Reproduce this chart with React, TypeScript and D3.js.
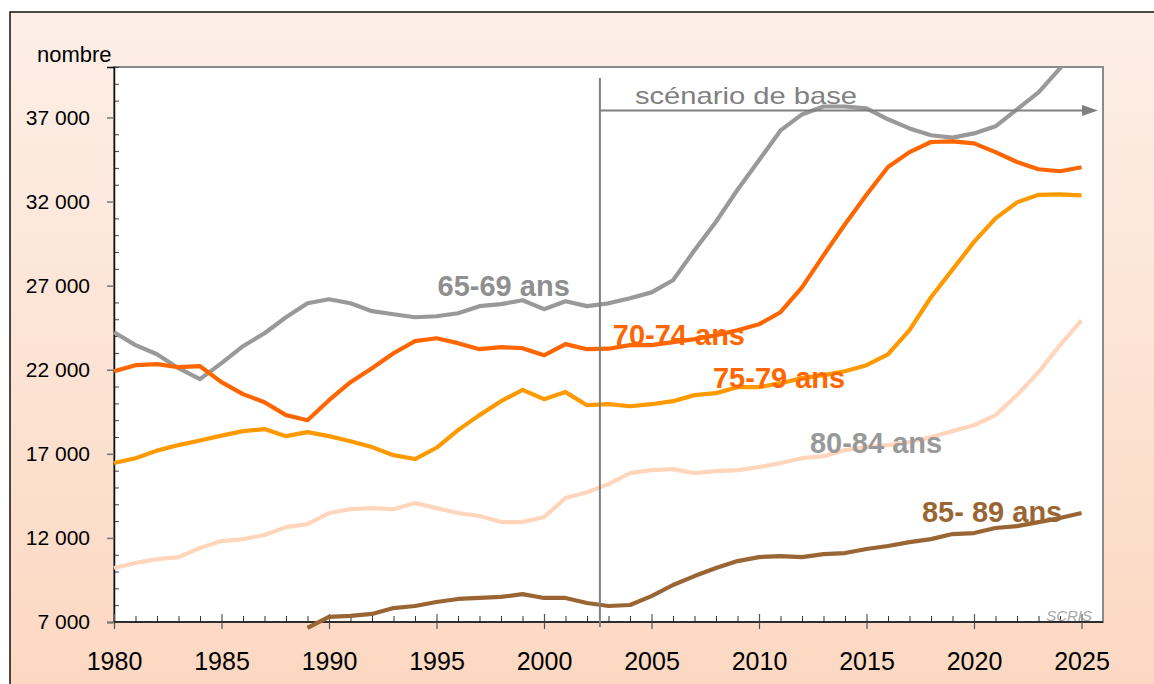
import React, { useRef, useEffect } from "react";
import * as d3 from "d3";

// years on the x axis
const years = d3.range(1980, 2026);

// values, 1980 -> 2025
const ages6569 = [
  24230, 23460, 22920, 22090, 21440, 22390, 23400, 24170, 25120, 25950,
  26190, 25950, 25480, 25300, 25120, 25180, 25360, 25780, 25900, 26130,
  25600, 26070, 25780, 25950, 26250, 26600, 27320, 29100, 30800, 32700,
  34450, 36230, 37180, 37650, 37650, 37540, 36890, 36350, 35940, 35800,
  36050, 36470, 37480, 38490, 39920, 41500,
];
const ages7074 = [
  21910, 22270, 22330, 22150, 22210, 21260, 20550, 20070, 19300, 19000,
  20190, 21260, 22090, 22980, 23700, 23870, 23580, 23220, 23340, 23280,
  22860, 23520, 23220, 23250, 23460, 23460, 23640, 23820, 24050, 24350,
  24700, 25420, 26900, 28800, 30650, 32400, 34050, 34940, 35540, 35580,
  35460, 34940, 34350, 33920, 33800, 34040,
];
const ages7579 = [
  16450, 16740, 17190, 17520, 17790, 18080, 18350, 18470, 18050, 18290,
  18050, 17750, 17400, 16920, 16690, 17360, 18410, 19300, 20130, 20800,
  20250, 20670, 19890, 19950, 19830, 19950, 20130, 20490, 20610, 20960,
  20960, 21200, 21500, 21680, 21910, 22270, 22920, 24350, 26310, 27950,
  29600, 31000, 31950, 32400, 32430, 32370,
];
const ages8084 = [
  10210, 10510, 10740, 10860, 11400, 11810, 11930, 12170, 12640, 12820,
  13480, 13710, 13770, 13710, 14070, 13770, 13480, 13300, 12940, 12940,
  13240, 14370, 14720, 15200, 15850, 16030, 16090, 15850, 15970, 16030,
  16210, 16450, 16740, 16860, 17220, 17400, 17520, 17700, 17990, 18350,
  18700, 19300, 20490, 21850, 23460, 24940,
];
const ages8589 = [
  null, null, null, null, null, null, null, null, null, 6650,
  7300, 7360, 7480, 7830, 7950, 8190, 8370, 8430, 8490, 8660,
  8430, 8430, 8130, 7950, 8010, 8540, 9200, 9730, 10210, 10620,
  10860, 10920, 10860, 11040, 11100, 11340, 11520, 11750, 11930, 12230,
  12290, 12590, 12700, 12940, 13180, 13480,
];

const seriesNames = ["65-69 ans", "70-74 ans", "75-79 ans", "80-84 ans", "85- 89 ans"];
const seriesValues = [ages6569, ages7074, ages7579, ages8084, ages8589];
const seriesColors = ["#999999", "#ff6600", "#ff9900", "#ffd6bc", "#996633"];
const labelColors = ["#8f8f8f", "#ff6600", "#ff6600", "#999999", "#996633"];
// where each label sits (year, value of the baseline)
const labelYears = [1995.05, 2003.2, 2007.86, 2012.37, 2017.58];
const labelValues = [26370, 23460, 20900, 17040, 12940];

const yTicks = [7000, 12000, 17000, 22000, 27000, 32000, 37000];
const xTicks = [1980, 1985, 1990, 1995, 2000, 2005, 2010, 2015, 2020, 2025];

const scenarioYear = 2002.6;
const scenarioArrowValue = 37420;
const scenarioLabelYear = 2004.23;
const scenarioLabelValue = 37780;

const FONT = "'Liberation Sans', Arial, sans-serif";

const App = () => {
  const svgRef = useRef(null);

  useEffect(() => {
    document.body.style.margin = "0";
    const svg = d3.select(svgRef.current);
    svg.selectAll("*").remove();

    const W = 1154;
    const H = 684;
    const margin = { top: 67, right: 51, bottom: 62, left: 114 };
    const x = d3.scaleLinear().domain([1980, 2026]).range([margin.left, W - margin.right]);
    const y = d3.scaleLinear().domain([7000, 40000]).range([H - margin.bottom, margin.top]);

    const fr = d3.formatLocale({ decimal: ",", thousands: " ", grouping: [3], currency: ["", ""] });
    const fmt = fr.format(",d");

    // background gradient
    const defs = svg.append("defs");
    const grad = defs.append("linearGradient").attr("id", "bg").attr("x1", 0).attr("x2", 0).attr("y1", 0).attr("y2", 1);
    grad.append("stop").attr("offset", "0%").attr("stop-color", "#fdefe7");
    grad.append("stop").attr("offset", "100%").attr("stop-color", "#fcd7c0");
    defs.append("clipPath").attr("id", "plotclip")
      .append("rect")
      .attr("x", margin.left - 10)
      .attr("y", margin.top)
      .attr("width", W - margin.right - margin.left + 10)
      .attr("height", H - margin.bottom - margin.top + 10);

    svg.append("rect")
      .attr("x", 10).attr("y", 12)
      .attr("width", W + 20).attr("height", H + 20)
      .attr("fill", "url(#bg)")
      .attr("stroke", "#111").attr("stroke-width", 1.5);

    // plot area
    svg.append("rect")
      .attr("x", margin.left).attr("y", margin.top)
      .attr("width", W - margin.right - margin.left)
      .attr("height", H - margin.bottom - margin.top)
      .attr("fill", "#fff")
      .attr("stroke", "#8a8a8a").attr("stroke-width", 2);

    // y axis
    const minorY = d3.range(8000, 40001, 1000).filter(v => !yTicks.includes(v));
    svg.append("g")
      .attr("transform", `translate(${margin.left},0)`)
      .call(d3.axisRight(y).tickValues(minorY).tickSize(5).tickFormat(() => ""))
      .call(g => g.select(".domain").remove())
      .call(g => g.selectAll("line").attr("stroke", "#444"));

    const yAxis = svg.append("g")
      .attr("transform", `translate(${margin.left},0)`)
      .call(d3.axisLeft(y).tickValues(yTicks).tickSize(7).tickPadding(17).tickFormat(d => fmt(d)));
    yAxis.select(".domain").attr("stroke", "#111").attr("stroke-width", 1.5);
    yAxis.selectAll("line").attr("stroke", "#777").attr("stroke-width", 1.5);
    yAxis.selectAll("text").attr("font-family", FONT).attr("font-size", 21).attr("fill", "#000");

    // x axis
    const baseY = H - margin.bottom;
    svg.append("g")
      .attr("transform", `translate(0,${baseY})`)
      .call(d3.axisTop(x).tickValues(years.filter(v => v % 5 !== 0)).tickSize(6).tickFormat(() => ""))
      .call(g => g.select(".domain").remove())
      .call(g => g.selectAll("line").attr("stroke", "#333"));
    svg.append("g")
      .attr("transform", `translate(0,${baseY})`)
      .call(d3.axisTop(x).tickValues(xTicks).tickSize(8).tickFormat(() => ""))
      .call(g => g.select(".domain").remove())
      .call(g => g.selectAll("line").attr("stroke", "#555").attr("stroke-width", 1.2));
    const xAxis = svg.append("g")
      .attr("transform", `translate(0,${baseY})`)
      .call(d3.axisBottom(x).tickValues(xTicks).tickSize(7).tickPadding(23).tickFormat(d => String(d)));
    xAxis.select(".domain").attr("stroke", "#111").attr("stroke-width", 1.5)
      .attr("d", `M${margin.left},0H${W - margin.right}`);
    xAxis.selectAll("line").attr("stroke", "#555").attr("stroke-width", 1.2);
    xAxis.selectAll("text").attr("font-family", FONT).attr("font-size", 25).attr("fill", "#000");

    // axis title
    svg.append("text")
      .attr("x", 37).attr("y", 62)
      .attr("font-family", FONT).attr("font-size", 22)
      .text("nombre");

    // lines
    const line = d3.line()
      .defined(d => d[1] != null)
      .x(d => x(d[0]))
      .y(d => y(d[1]));
    const lines = svg.append("g").attr("clip-path", "url(#plotclip)");
    seriesValues.forEach((vals, i) => {
      lines.append("path")
        .datum(years.map((yr, j) => [yr, vals[j]]))
        .attr("d", line)
        .attr("fill", "none")
        .attr("stroke", seriesColors[i])
        .attr("stroke-width", 4.2)
        .attr("stroke-linejoin", "round");
    });

    // series labels
    seriesNames.forEach((name, i) => {
      svg.append("text")
        .attr("x", x(labelYears[i]))
        .attr("y", y(labelValues[i]))
        .attr("font-family", FONT)
        .attr("font-size", 29)
        .attr("font-weight", "bold")
        .attr("fill", labelColors[i])
        .text(name);
    });

    // scenario marker
    const sx = x(scenarioYear);
    svg.append("line")
      .attr("x1", sx).attr("x2", sx)
      .attr("y1", 78).attr("y2", baseY + 5)
      .attr("stroke", "#808080").attr("stroke-width", 2);
    const ay = y(scenarioArrowValue);
    const ax2 = W - margin.right - 5;
    svg.append("line")
      .attr("x1", sx).attr("x2", ax2 - 14)
      .attr("y1", ay).attr("y2", ay)
      .attr("stroke", "#808080").attr("stroke-width", 2);
    svg.append("path")
      .attr("d", `M${ax2},${ay}L${ax2 - 16},${ay - 5.5}L${ax2 - 16},${ay + 5.5}Z`)
      .attr("fill", "#808080");
    svg.append("text")
      .attr("x", x(scenarioLabelYear))
      .attr("y", y(scenarioLabelValue))
      .attr("font-family", FONT)
      .attr("font-size", 24)
      .attr("textLength", 222)
      .attr("lengthAdjust", "spacingAndGlyphs")
      .attr("fill", "#808080")
      .text("scénario de base");

    // source
    svg.append("text")
      .attr("x", W - margin.right - 11)
      .attr("y", baseY - 1)
      .attr("text-anchor", "end")
      .attr("font-family", FONT)
      .attr("font-size", 15)
      .attr("font-style", "italic")
      .attr("fill", "#a6a6a6")
      .text("SCRIS");
  }, []);

  return <svg ref={svgRef} width={1154} height={684} style={{ display: "block" }}></svg>;
};

export default App;
